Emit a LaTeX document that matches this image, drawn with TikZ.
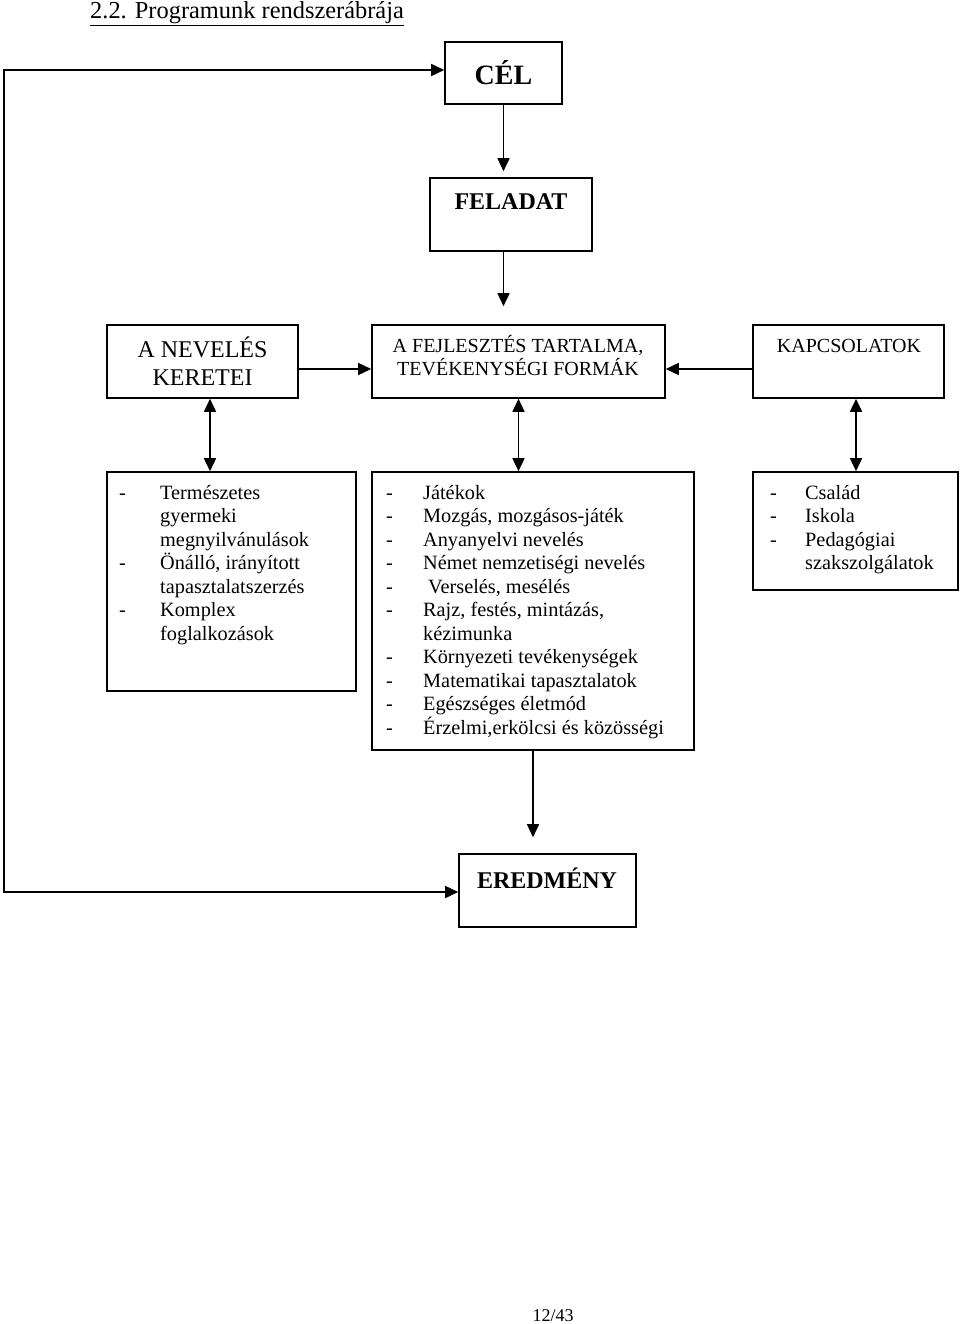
\documentclass[tikz,border=0pt]{standalone}
\usepackage{fontspec}
\setmainfont{Liberation Serif}
\usetikzlibrary{arrows.meta}

\newcommand{\itm}[2][40pt]{\makebox[#1][l]{-}#2}
\newcommand{\cnt}[2][40pt]{\hspace*{#1}#2}

\begin{document}
\begin{tikzpicture}[x=1pt,y=1pt,yscale=-1,
  box/.style={draw, line width=1.6pt, inner sep=0pt, rectangle},
  arr/.style={line width=1.6pt, -{Triangle[length=13pt,width=12pt]}},
  darr/.style={line width=1.6pt, {Triangle[length=13pt,width=12pt]}-{Triangle[length=13pt,width=12pt]}},
  hd/.style={font=\bfseries\fontsize{24}{28}\selectfont, inner sep=0pt},
  lbl/.style={font=\fontsize{20}{23}\selectfont, align=center, inner sep=0pt},
  lst/.style={font=\fontsize{20.3}{23.5}\selectfont, align=left, inner sep=0pt, anchor=north west}]
\path[use as bounding box] (0,0) rectangle (960,1324);

% title
\node[anchor=base west, inner sep=0pt, font=\fontsize{24.4}{28}\selectfont] (title) at (90,19) {\underline{2.2. Programunk rendszerábrája}};

% top boxes
\node[box, hd, font=\bfseries\fontsize{28}{30}\selectfont, minimum width=117, minimum height=62] (cel) at (503.5,73) {CÉL};
\node[box, minimum width=162, minimum height=73] (feladat) at (511,214.5) {};
\node[hd] (feladattxt) at (511,201.5) {FELADAT};

% middle row
\node[box, minimum width=191, minimum height=73, align=center, font=\fontsize{24}{28}\selectfont] (nev) at (202.5,361.5) {A NEVELÉS\\KERETEI};
\node[box, minimum width=293, minimum height=73] (fejl) at (518.5,361.5) {};
\node[lbl] (fejltxt) at (518,356) {A FEJLESZTÉS TARTALMA,\\TEVÉKENYSÉGI FORMÁK};
\node[box, minimum width=191, minimum height=73] (kapcs) at (848.5,361.5) {};
\node[lbl] (kapcstxt) at (849,346) {KAPCSOLATOK};

% list boxes
\node[box, minimum width=249, minimum height=219] (lbox) at (231.5,581.5) {};
\node[lst] (ltxt) at (119,485) {\itm[41pt]{Természetes}\\
\cnt[41pt]{gyermeki}\\
\cnt[41pt]{megnyilvánulások}\\
\itm[41pt]{Önálló, irányított}\\
\cnt[41pt]{tapasztalatszerzés}\\
\itm[41pt]{Komplex}\\
\cnt[41pt]{foglalkozások}};

\node[box, minimum width=322, minimum height=278] (mbox) at (533,611) {};
\node[lst] (mtxt) at (386,485) {\itm[37pt]{Játékok}\\
\itm[37pt]{Mozgás, mozgásos-játék}\\
\itm[37pt]{Anyanyelvi nevelés}\\
\itm[37pt]{Német nemzetiségi nevelés}\\
\itm[37pt]{\hspace{5pt}Verselés, mesélés}\\
\itm[37pt]{Rajz, festés, mintázás,}\\
\cnt[37pt]{kézimunka}\\
\itm[37pt]{Környezeti tevékenységek}\\
\itm[37pt]{Matematikai tapasztalatok}\\
\itm[37pt]{Egészséges életmód}\\
\itm[37pt]{Érzelmi,erkölcsi és közösségi}};

\node[box, minimum width=205, minimum height=118] (rbox) at (855.5,531) {};
\node[lst] (rtxt) at (770,485) {\itm[35pt]{Család}\\
\itm[35pt]{Iskola}\\
\itm[35pt]{Pedagógiai}\\
\cnt[35pt]{szakszolgálatok}};

% result
\node[box, minimum width=177, minimum height=73] (ered) at (547.5,890.5) {};
\node[hd] (eredtxt) at (547,878) {EREDMÉNY};

% page number
\node[inner sep=0pt, font=\fontsize{18}{20}\selectfont] (pnum) at (553,1316) {12/43};

% connectors
\coordinate (loopt) at (4,70);
\coordinate (loopb) at (4,892);
\draw[darr] (cel.west |- loopt) -- (loopt) -- (loopb) -- (ered.west |- loopb);
\draw[arr, shorten >=6pt] (cel.south) -- (cel.south |- feladat.north);
\draw[arr, shorten >=18pt] (feladat.south -| cel.south) -- (cel.south |- fejl.north);
\draw[arr] ([yshift=7.5pt]nev.east) -- ([yshift=7.5pt]nev.east -| fejl.west);
\draw[arr] ([yshift=7.5pt]kapcs.west) -- ([yshift=7.5pt]kapcs.west -| fejl.east);
\draw[darr] ([xshift=7.5pt]nev.south) -- ([xshift=7.5pt]nev.south |- lbox.north);
\draw[darr] (fejl.south) -- (fejl.south |- mbox.north);
\draw[darr] ([xshift=7.5pt]kapcs.south) -- ([xshift=7.5pt]kapcs.south |- rbox.north);
\draw[arr, shorten >=16pt] (mbox.south) -- (mbox.south |- ered.north);

\end{tikzpicture}
\end{document}
